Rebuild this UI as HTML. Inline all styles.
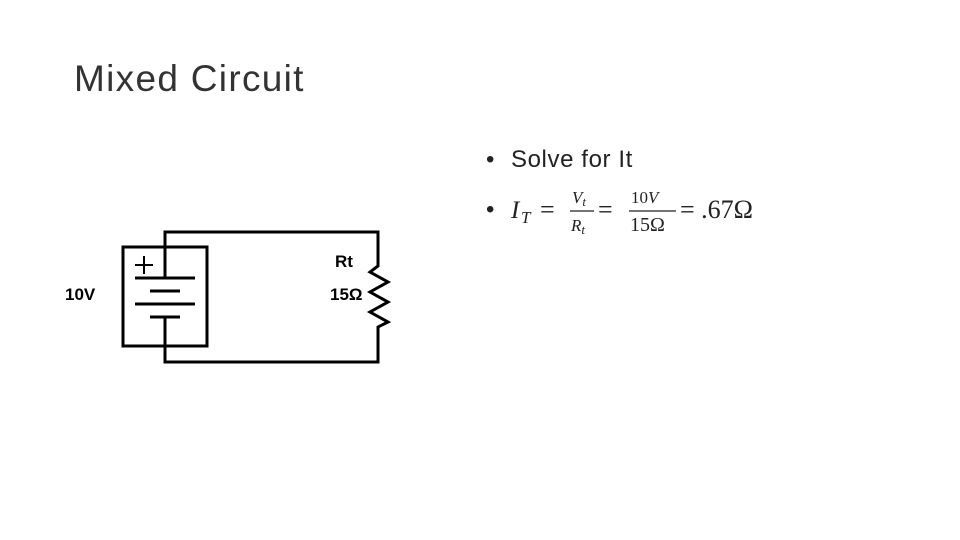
<!DOCTYPE html>
<html><head><style>
body{margin:0;width:960px;height:540px;background:#fff;position:relative;overflow:hidden;font-family:"Liberation Sans",sans-serif;}
.t{position:absolute;white-space:nowrap;color:#222;}
</style></head><body>
<div class="t" style="left:74px;top:58px;font-size:37px;color:#333;letter-spacing:1.3px;font-weight:300;">Mixed Circuit</div>
<div class="t" style="left:486px;top:146px;font-size:24px;">•</div>
<div class="t" style="left:511px;top:146px;font-size:24px;letter-spacing:0.6px;">Solve for It</div>
<svg width="960" height="540" style="position:absolute;left:0;top:0">
<g fill="none" stroke="#000" stroke-width="3">
<rect x="123" y="247" width="84" height="99"/>
<polyline points="165,278 165,232 378,232 378,266 370,272 388,282 370,292 388,302 370,312 388,322 378,327 378,362 165,362 165,317"/>
<line x1="135" y1="278" x2="195" y2="278"/>
<line x1="150" y1="291" x2="180" y2="291"/>
<line x1="135" y1="304" x2="195" y2="304"/>
<line x1="150" y1="317" x2="180" y2="317"/>
<line x1="135" y1="265" x2="153" y2="265" stroke-width="2"/>
<line x1="144" y1="256" x2="144" y2="274" stroke-width="2"/>
</g>
<g font-family="Liberation Sans,sans-serif" font-weight="bold" font-size="17" fill="#000">
<text x="65" y="300">10V</text>
<text x="335" y="267">Rt</text>
<text x="330" y="300">15Ω</text>
</g>
<g font-family="Liberation Serif,serif" fill="#222">
<text x="486" y="217" font-size="24" font-family="Liberation Sans,sans-serif">•</text>
<text x="511" y="218" font-size="25" font-style="italic">I</text>
<text x="521" y="223" font-size="17" font-style="italic">T</text>
<text x="540" y="218" font-size="26">=</text>
<text x="572" y="203" font-size="17" font-style="italic">V<tspan font-size="13" dy="3">t</tspan></text>
<line x1="570" y1="211" x2="594" y2="211" stroke="#222" stroke-width="1.2"/>
<text x="571" y="231" font-size="17" font-style="italic">R<tspan font-size="13" dy="3">t</tspan></text>
<text x="598" y="218" font-size="26">=</text>
<text x="631" y="203" font-size="17">10<tspan font-style="italic">V</tspan></text>
<line x1="629" y1="211" x2="676" y2="211" stroke="#222" stroke-width="1.2"/>
<text x="630" y="231" font-size="20">15Ω</text>
<text x="680" y="218" font-size="26">= .67Ω</text>
</g>
</svg>
</body></html>
